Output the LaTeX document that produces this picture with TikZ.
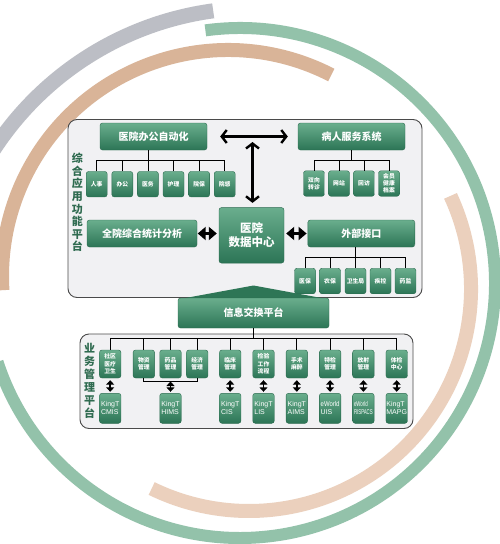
\documentclass[tikz,border=0pt]{standalone}
\usepackage{graphicx}
\usepackage{fontspec}
\newfontfamily\cjk{Noto Sans CJK SC}
\newfontfamily\lat{Liberation Sans}
\usetikzlibrary{arrows.meta}
\definecolor{ringgreen}{HTML}{93C2AA}
\definecolor{ringtan}{HTML}{D9B498}
\definecolor{ringtanl}{HTML}{EBD0BD}
\definecolor{ringgrey}{HTML}{BCBEC5}
\definecolor{gtop}{HTML}{6AAE8D}
\definecolor{gbot}{HTML}{2C7556}
\definecolor{gedge}{HTML}{2A6A4E}
\definecolor{roofgreen}{HTML}{2E7656}
\definecolor{panelfill}{HTML}{F1F1F3}
\definecolor{paneledge}{HTML}{4A4A4A}
\definecolor{labelgreen}{HTML}{2F6B50}
\begin{document}
\begin{tikzpicture}[x=1pt,y=-1pt,
 gbox/.style={rounded corners=2.5pt, top color=gtop, bottom color=gbot, draw=gedge, line width=0.4pt, text=white, inner sep=0pt, align=center},
 mainbox/.style={gbox, minimum width=107pt, minimum height=27pt, font=\cjk\bfseries\fontsize{10}{12}\selectfont},
 leaf/.style={gbox, minimum width=21pt, minimum height=25.5pt, font=\cjk\bfseries\fontsize{5.8}{7}\selectfont},
 opbox/.style={gbox, minimum width=21.5pt, minimum height=28pt, font=\cjk\bfseries\fontsize{5.8}{7.5}\selectfont},
 sysbox/.style={gbox, minimum width=21.5pt, minimum height=30pt, font=\lat\fontsize{7}{8}\selectfont, align=left},
 panel/.style={draw=paneledge, fill=panelfill, line width=0.9pt, rounded corners=9pt},
 tree/.style={draw=black, line width=0.8pt},
 bigarrow/.style={line width=2.4pt, {Straight Barb[length=5pt,width=13pt]}-{Straight Barb[length=5pt,width=13pt]}},
 fatarrow/.style={line width=3pt, {Triangle[length=8pt,width=13pt]}-{Triangle[length=8pt,width=13pt]}},
 minarrow/.style={line width=1.8pt, {Triangle[length=4.5pt,width=8pt]}-{Triangle[length=4.5pt,width=8pt]}},
 vlabel/.style={text=labelgreen, font=\cjk\bfseries\fontsize{11}{12.6}\selectfont, align=center, inner sep=0pt}
]
\fill[white] (0,0) rectangle (500,544);
\useasboundingbox (0,0) rectangle (500,544);

% rings
\begin{scope}
\clip (0,0) rectangle (500,544);
\draw[line width=15pt, ringgrey] (255,320) ++(97.7:312pt) arc[start angle=97.7, end angle=152, radius=312pt];
\draw[line width=12pt, ringgreen] (240,283) ++(97.8:255pt) arc[start angle=97.8, end angle=-162, radius=255pt];
\draw[line width=14pt, ringtan] (228,276) ++(62.8:226pt) arc[start angle=62.8, end angle=183.6, radius=226pt];
\draw[line width=14pt, ringtanl] (249,289) ++(24.8:222pt) arc[start angle=24.8, end angle=-116, radius=222pt];
\end{scope}

% panels
\draw[panel] (68,119.5) rectangle (422,297.5);
\draw[panel] (80,334) rectangle (413,428.5);
\fill[roofgreen] (180,299) -- (253.5,285.5) -- (327,299) -- cycle;

% upper platform
\node[mainbox] (oa) at (153.5,136.5) {医院办公自动化};
\foreach \i/\x/\t in {1/96.7/人事, 2/122.3/办公, 3/147.9/医务, 4/173.5/护理, 5/199.1/院保, 6/224.7/院感}
  \node[leaf] (oa\i) at (\x,184.2) {\t};
\node[mainbox] (ps) at (351.5,136.5) {病人服务系统};
\foreach \i/\x/\t in {1/314/{双向\\转诊}, 2/339/{网站}, 3/364/{回访}, 4/389/{会员\\健康\\档案}}
  \node[leaf] (ps\i) at (\x,183.5) {\t};
\node[mainbox, minimum width=110pt] (stat) at (142,233.5) {全院综合统计分析};
\node[gbox, minimum width=65pt, minimum height=55.5pt, font=\cjk\bfseries\fontsize{11.5}{14}\selectfont] (dc) at (251.5,235.3) {医院\\数据中心};
\node[mainbox] (ext) at (361.3,233.5) {外部接口};
\foreach \i/\x/\t in {1/305/医保, 2/330/农保, 3/355.5/卫生局, 4/380.5/疾控, 5/405.5/药监}
  \node[leaf] (ex\i) at (\x,281) {\t};

% trees upper
\draw[tree] (oa1.north) -- ++(0,-10.5) -| (oa6.north);
\foreach \i in {2,3,4,5} \draw[tree] (oa\i.north) -- ++(0,-10.5);
\draw[tree] (oa.south -| oa3) -- ([yshift=10.5pt]oa3.north);
\draw[tree] (ps1.north) -- ++(0,-10.5) -| (ps4.north);
\foreach \i in {2,3} \draw[tree] (ps\i.north) -- ++(0,-10.5);
\draw[tree] (ps.south) -- ++(0,11);
\draw[tree] (ex1.north) -- ++(0,-10.5) -| (ex5.north);
\foreach \i in {2,3,4} \draw[tree] (ex\i.north) -- ++(0,-10.5);
\draw[tree] (ext.south -| ex3) -- ([yshift=10.5pt]ex3.north);

% arrows upper
\draw[bigarrow] ([xshift=13pt]oa.east) -- ([xshift=-10pt]ps.west);
\coordinate (vtop) at (252.5,142);
\draw[bigarrow, shorten >=4.5pt] (vtop) -- (vtop |- dc.north);
\draw[fatarrow, shorten <=0.5pt, shorten >=2pt] (stat.east) -- (stat.east -| dc.west);
\draw[fatarrow, shorten <=2pt, shorten >=1pt] (dc.east |- ext.west) -- (ext.west);

% exchange platform
\node[mainbox, minimum width=151pt, minimum height=30pt] (xc) at (253.5,313) {信息交换平台};

% labels
\node[vlabel] (lab1) at (77.3,202.5) {综\\合\\应\\用\\功\\能\\平\\台};
\node[vlabel, font=\cjk\bfseries\fontsize{11}{13}\selectfont] (lab2) at (89.5,380.5) {业\\务\\管\\理\\平\\台};

% lower platform
\foreach \i/\x/\t in {1/110.2/{社区\\医疗\\卫生}, 2/143.8/{物资\\管理}, 3/170.5/{药品\\管理}, 4/197.2/{经济\\管理}, 5/230.2/{临床\\管理}, 6/263.5/{检验\\工作\\流程}, 7/296.8/{手术\\麻醉}, 8/330.1/{特检\\管理}, 9/363.4/{放射\\管理}, 10/396.7/{体检\\中心}}
  \node[opbox] (op\i) at (\x,364) {\t};
\foreach \i/\x/\t in {1/110.2/{KingT\\CMIS}, 2/170.5/{KingT\\HIMS}, 3/230.2/{KingT\\CIS}, 4/263.5/{KingT\\LIS}, 5/296.8/{KingT\\AIMS}, 6/330.1/{\scalebox{0.85}[1]{eWorld}\\UIS}, 7/363.4/{\scalebox{0.62}[1]{eWorld}\\\scalebox{0.62}[1]{RISPACS}}, 8/396.7/{KingT\\MAPG}}
  \node[sysbox] (s\i) at (\x,408.3) {\t};

\draw[tree] (xc.south) -- ++(0,11);
\draw[tree] (op1.north) -- ++(0,-11) -| (op10.north);
\foreach \i in {2,...,9} \draw[tree] (op\i.north) -- ++(0,-11);

\draw[minarrow, shorten <=2pt, shorten >=1.3pt] (op1.south) -- (s1.north);
\draw[tree] (op2.south) -- ++(0,3.5) -| (op4.south);
\coordinate (hb) at (170.5,381.5);
\draw[minarrow, shorten >=1.3pt] (hb) -- (s2.north);
\foreach \a/\b in {5/3, 6/4, 7/5, 8/6, 9/7, 10/8}
  \draw[minarrow, shorten <=2pt, shorten >=1.3pt] (op\a.south) -- (s\b.north);
\end{tikzpicture}
\end{document}
